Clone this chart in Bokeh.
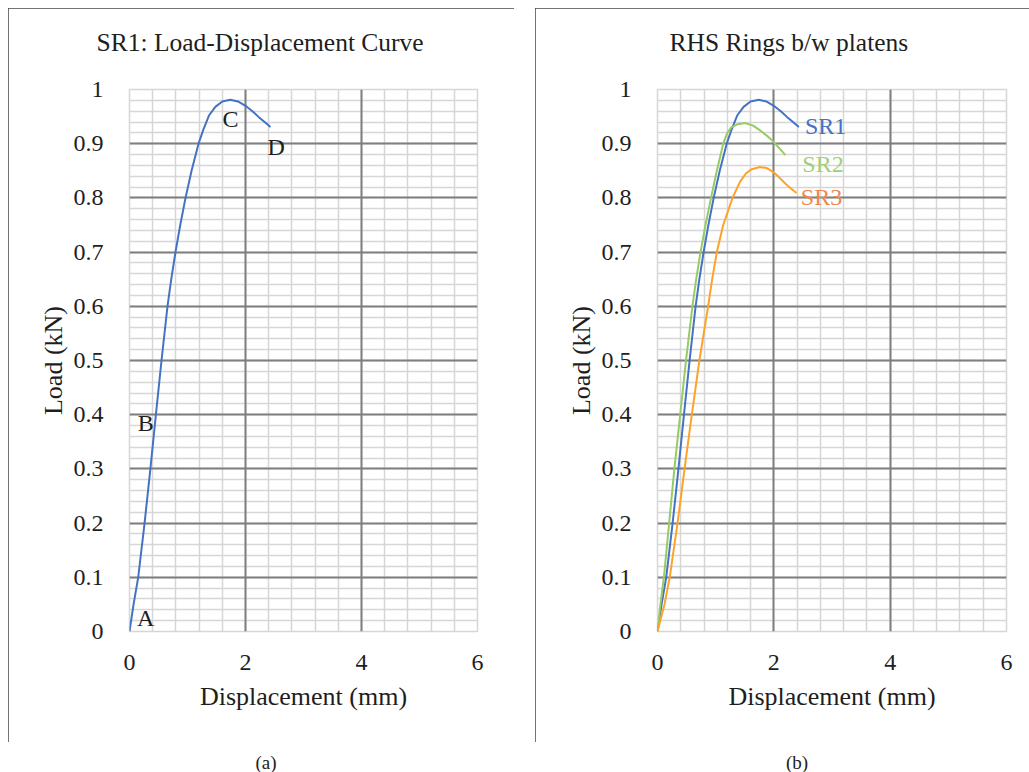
import numpy as np
from bokeh.plotting import figure
from bokeh.models import Range1d, FixedTicker, Grid, Title, Div
from bokeh.layouts import row, column
from bokeh.embed import file_html
from bokeh.resources import INLINE
from bokeh.core.properties import value

# ---------------- data ----------------
x_ticks = [0, 2, 4, 6]
y_ticks = [0, 0.1, 0.2, 0.3, 0.4, 0.5, 0.6, 0.7, 0.8, 0.9, 1]
y_tick_labels = ["0", "0.1", "0.2", "0.3", "0.4", "0.5", "0.6", "0.7", "0.8", "0.9", "1"]

sr1_x = [0, 0.07, 0.15, 0.26, 0.36, 0.455, 0.552, 0.655, 0.72, 0.793, 0.875, 0.966, 1.07, 1.19, 1.28, 1.37, 1.48, 1.6, 1.74, 1.87, 2.0, 2.12, 2.23, 2.33, 2.43]
sr1_y = [0, 0.05, 0.1, 0.2, 0.3, 0.4, 0.5, 0.6, 0.65, 0.7, 0.75, 0.8, 0.85, 0.9, 0.928, 0.952, 0.968, 0.978, 0.981, 0.978, 0.97, 0.96, 0.949, 0.94, 0.931]

sr2_x = [0, 0.05, 0.11, 0.2, 0.29, 0.39, 0.49, 0.6, 0.665, 0.74, 0.825, 0.92, 1.02, 1.13, 1.2, 1.27, 1.38, 1.51, 1.65, 1.77, 1.9, 2.0, 2.1, 2.2]
sr2_y = [0, 0.05, 0.1, 0.2, 0.3, 0.4, 0.5, 0.6, 0.65, 0.7, 0.75, 0.8, 0.85, 0.9, 0.92, 0.93, 0.936, 0.938, 0.933, 0.924, 0.913, 0.903, 0.891, 0.879]

sr3_x = [0, 0.12, 0.21, 0.345, 0.465, 0.59, 0.72, 0.87, 0.94, 1.02, 1.13, 1.29, 1.42, 1.52, 1.62, 1.76, 1.88, 2.0, 2.1, 2.2, 2.3, 2.39]
sr3_y = [0, 0.05, 0.1, 0.2, 0.3, 0.4, 0.5, 0.6, 0.65, 0.7, 0.75, 0.8, 0.83, 0.845, 0.853, 0.857, 0.855, 0.847, 0.837, 0.826, 0.817, 0.809]

point_labels = ["A", "B", "C", "D"]
point_label_x = [0.28, 0.28, 1.74, 2.53]
point_label_y = [0.024, 0.384, 0.945, 0.893]

series_names = ["SR1", "SR2", "SR3"]
series_label_x = [2.89, 2.845, 2.82]
series_label_y = [0.932, 0.863, 0.802]

# ---------------- styles ----------------
FONT = "Liberation Serif"
line_colors = ["#4472C4", "#97CB63", "#FFA229"]
text_colors = ["#4472C4", "#A1CF77", "#EE8652"]
MINOR = "#d6d6d6"
MAJOR = "#7f7f7f"


def make_panel(title_text, width, mb_left, mb_right, title_offset):
    p = figure(width=width, height=734, x_range=Range1d(0, 6), y_range=Range1d(0, 1),
               output_backend="svg", toolbar_location=None, title=None,
               min_border_left=mb_left, min_border_right=mb_right,
               min_border_top=81, min_border_bottom=111)
    p.xgrid.visible = False
    p.ygrid.visible = False
    minor_x = [round(0.4 * i, 2) for i in range(1, 15)]
    minor_y = [round(0.02 * i, 2) for i in range(1, 50)]
    p.add_layout(Grid(dimension=0, ticker=FixedTicker(ticks=minor_x),
                      grid_line_color=MINOR, grid_line_width=1.5))
    p.add_layout(Grid(dimension=1, ticker=FixedTicker(ticks=minor_y),
                      grid_line_color=MINOR, grid_line_width=1.5))
    p.add_layout(Grid(dimension=0, ticker=FixedTicker(ticks=[2, 4]),
                      grid_line_color=MAJOR, grid_line_width=2))
    p.add_layout(Grid(dimension=1, ticker=FixedTicker(ticks=y_ticks[1:]),
                      grid_line_color=MAJOR, grid_line_width=2))
    p.outline_line_color = MINOR
    p.outline_line_width = 1.5
    p.background_fill_color = "white"

    p.xaxis.ticker = FixedTicker(ticks=x_ticks)
    p.yaxis.ticker = FixedTicker(ticks=y_ticks)
    p.yaxis.major_label_overrides = {t: s for t, s in zip(y_ticks, y_tick_labels)}
    for ax in (p.xaxis[0], p.yaxis[0]):
        ax.axis_line_color = None
        ax.major_tick_line_color = None
        ax.minor_tick_line_color = None
        ax.major_label_text_font = FONT
        ax.major_label_text_font_size = "24px"
        ax.major_label_text_color = "#1e1e1e"
        ax.axis_label_text_font = FONT
        ax.axis_label_text_font_size = "26px"
        ax.axis_label_text_font_style = "normal"
        ax.axis_label_text_color = "#1e1e1e"
    p.xaxis.axis_label = "Displacement (mm)"
    p.yaxis.axis_label = "Load (kN)"
    p.xaxis.major_label_standoff = 17
    p.xaxis.axis_label_standoff = 9
    p.yaxis.major_label_standoff = 20
    p.yaxis.axis_label_standoff = 3

    p.add_layout(Title(text=" ", text_font_size="14px"), "above")
    p.add_layout(Title(text=title_text, text_font=FONT, text_font_size="25.5px",
                       text_font_style="normal", text_color="#1e1e1e",
                       align="left", offset=title_offset), "above")
    p.styles = {"outline": "2px solid #444444", "outline-offset": "-2px"}
    return p


p1 = make_panel("SR1: Load-Displacement Curve", 506, 121, 37, -33)
p1.line(sr1_x, sr1_y, line_color=line_colors[0], line_width=2)
p1.text(x=point_label_x, y=point_label_y, text=point_labels,
        text_font=value(FONT), text_font_size="24px", text_color="#1e1e1e",
        text_align="center", text_baseline="middle")

p2 = make_panel("RHS Rings b/w platens", 494, 122, 23, 12)
for xs, ys, c in zip([sr1_x, sr2_x, sr3_x], [sr1_y, sr2_y, sr3_y], line_colors):
    p2.line(xs, ys, line_color=c, line_width=2)
p2.text(x=series_label_x, y=series_label_y, text=series_names,
        text_font=value(FONT), text_font_size="24px", text_color=text_colors,
        text_align="center", text_baseline="middle")


def caption(txt, width):
    return Div(text=f'<div style="width:{width}px;text-align:center;font-family:\'{FONT}\',serif;'
                    f'font-size:19px;color:#222;position:relative;top:2px">{txt}</div>',
               width=width, height=22)


layout = column(row(p1, p2, spacing=21), row(caption("(a)", 506), caption("(b)", 494), spacing=21),
                margin=(8, 0, 0, 8))

open("out.html", "w").write(file_html(layout, INLINE))
